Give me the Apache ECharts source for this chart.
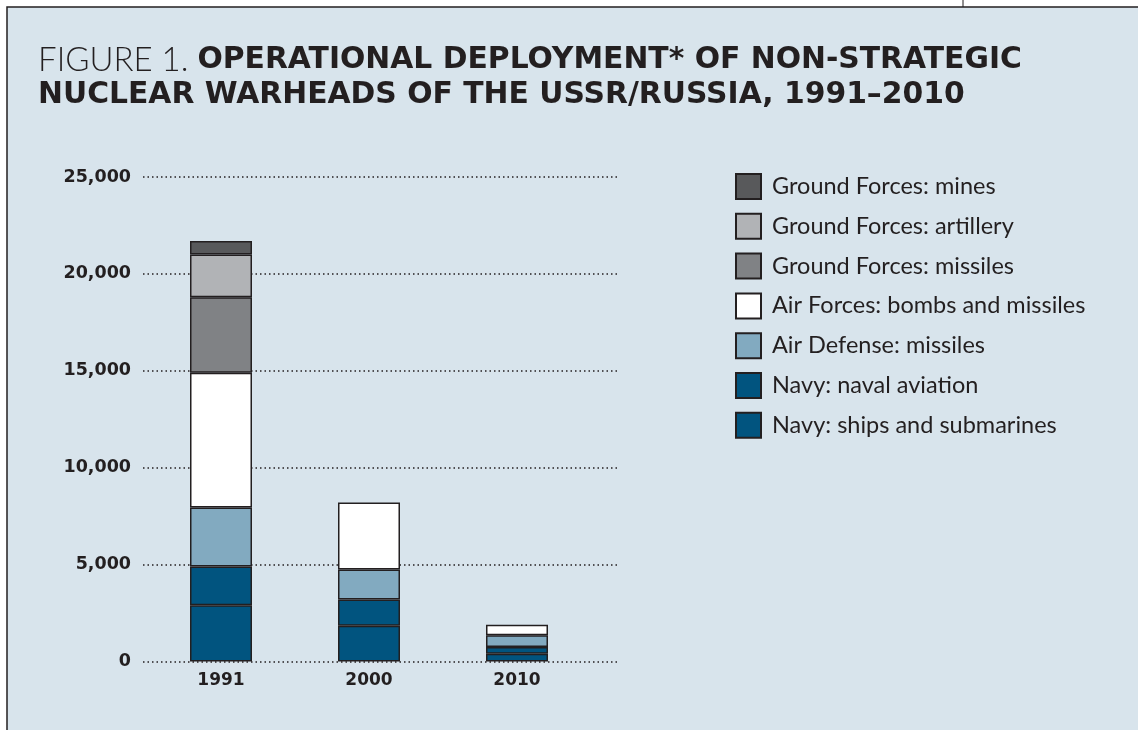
<!DOCTYPE html>
<html>
<head>
<meta charset="utf-8">
<script src="https://cdn.jsdelivr.net/npm/echarts@6/dist/echarts.min.js"></script>
<style>
  html, body { margin: 0; padding: 0; background: #fff; }
  #eChart { width: 1138px; height: 730px; }
</style>
</head>
<body>
<div id="eChart"></div>
<script>
// years on the x axis
var years = ['1991', '2000', '2010'];

// warheads per component, stacked bottom to top
var navyShips    = [2900, 1850, 400];
var navyAviation = [2000, 1350, 350];
var airDefense   = [3050, 1550, 600];
var airForces    = [6950, 3450, 550];
var gfMissiles   = [3900, 0, 0];
var gfArtillery  = [2200, 0, 0];
var gfMines      = [700, 0, 0];

var yTicks = [0, 5000, 10000, 15000, 20000, 25000];

var ink = '#231f20';
var bg = '#d8e4ec';

function bar(name, data, color) {
  return {
    name: name,
    type: 'bar',
    stack: 'total',
    xAxisIndex: 1,
    yAxisIndex: 1,
    barWidth: 62,
    itemStyle: { color: color, borderColor: ink, borderWidth: 1.5 },
    data: data.map(function (v) { return v === 0 ? '-' : v; })
  };
}

var chart = echarts.init(document.getElementById('eChart'));
var option = {
  backgroundColor: '#fff',
  animation: false,
  graphic: [
    { type: 'rect', z: -10, shape: { x: 7, y: 7, width: 1140, height: 740 },
      style: { fill: bg, stroke: ink, lineWidth: 1.5 } },
    { type: 'line', z: -10, shape: { x1: 963, y1: 0, x2: 963, y2: 7 },
      style: { stroke: ink, lineWidth: 1 } }
  ],
  title: {
    left: 33,
    top: 38,
    text: '{a|FIGURE 1. }{b|OPERATIONAL DEPLOYMENT* OF NON-STRATEGIC}\n{b|NUCLEAR WARHEADS OF THE USSR/RUSSIA, 1991–2010}',
    textStyle: {
      rich: {
        a: { fontFamily: 'Lato', fontWeight: 300, fontSize: 33, color: ink, lineHeight: 35 },
        b: { fontFamily: 'DejaVu Sans', fontWeight: 'bold', fontSize: 29.8, color: ink, lineHeight: 35 }
      }
    }
  },
  legend: {
    orient: 'vertical',
    left: 730,
    top: 168,
    icon: 'rect',
    itemWidth: 25,
    itemHeight: 25,
    itemGap: 12.8,
    selectedMode: false,
    textStyle: { fontFamily: 'Lato', fontSize: 23.5, lineHeight: 25, color: ink, padding: [0, 0, 0, 6] },
    data: [
      'Ground Forces: mines',
      'Ground Forces: artillery',
      'Ground Forces: missiles',
      'Air Forces: bombs and missiles',
      'Air Defense: missiles',
      'Navy: naval aviation',
      'Navy: ships and submarines'
    ]
  },
  grid: [
    { left: 143, right: 519, top: 177, bottom: 68.5 },
    { left: 147, right: 547, top: 177, bottom: 68.5 }
  ],
  xAxis: [
    { type: 'category', gridIndex: 0, data: years, show: false },
    {
      type: 'category', gridIndex: 1, data: years,
      axisLine: { show: false }, axisTick: { show: false },
      axisLabel: { margin: 11, fontFamily: 'DejaVu Sans', fontWeight: 'bold', fontSize: 17, color: ink }
    }
  ],
  yAxis: [
    {
      type: 'value', gridIndex: 0, min: yTicks[0], max: yTicks[yTicks.length - 1], interval: 5000,
      axisLine: { show: false }, axisTick: { show: false },
      axisLabel: {
        margin: 12, fontFamily: 'DejaVu Sans', fontWeight: 'bold', fontSize: 17.5, color: ink,
        formatter: function (v) { return v.toLocaleString('en-US'); }
      },
      splitLine: { lineStyle: { color: ink, width: 1.5, type: [1.5, 3] } }
    },
    { type: 'value', gridIndex: 1, min: 0, max: 25000, interval: 5000, show: false, splitLine: { show: false } }
  ],
  series: [
    bar('Navy: ships and submarines', navyShips, '#01547f'),
    bar('Navy: naval aviation', navyAviation, '#01547f'),
    bar('Air Defense: missiles', airDefense, '#82aac0'),
    bar('Air Forces: bombs and missiles', airForces, '#ffffff'),
    bar('Ground Forces: missiles', gfMissiles, '#808285'),
    bar('Ground Forces: artillery', gfArtillery, '#b1b3b6'),
    bar('Ground Forces: mines', gfMines, '#58595b')
  ]
};
chart.setOption(option);
</script>
</body>
</html>
